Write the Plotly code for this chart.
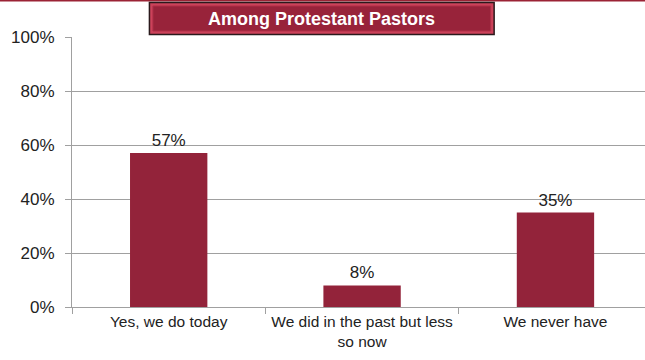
import plotly.graph_objects as go

categories = ["Yes, we do today", "We did in the past but less<br>so now", "We never have"]
values = [57, 8, 35]
y_ticks = [0, 20, 40, 60, 80, 100]
y_tick_labels = ["0%", "20%", "40%", "60%", "80%", "100%"]
title_text = "Among Protestant Pastors"

bar_color = "#93233A"
font_family = "Liberation Sans, Arial"

fig = go.Figure(
    go.Bar(
        x=categories,
        y=values,
        marker=dict(color=bar_color, line=dict(width=0)),
        width=0.4,
        text=[f"{v}%" for v in values],
        textposition="outside",
        textfont=dict(family=font_family, size=17, color="#222222"),
        cliponaxis=False,
    )
)

W, H = 645, 360
left, right, top, bottom = 71.5, 645, 37, 307

fig.update_layout(
    width=W,
    height=H,
    margin=dict(l=left, r=W - right, t=top, b=H - bottom),
    paper_bgcolor="white",
    plot_bgcolor="white",
    showlegend=False,
    font=dict(family=font_family, color="#222222"),
    bargap=0.6,
)

fig.update_xaxes(
    range=[-0.5, 2.463],
    tickson="boundaries",
    ticks="outside",
    ticklen=6,
    tickcolor="#A0A0A0",
    showline=True,
    linecolor="#A0A0A0",
    linewidth=1,
    showgrid=False,
    tickfont=dict(size=15.5, color="#222222"),
)

fig.update_yaxes(
    range=[0, 100],
    tickvals=y_ticks,
    ticktext=y_tick_labels,
    ticks="outside",
    ticklen=6,
    tickcolor="#A0A0A0",
    showline=True,
    linecolor="#A0A0A0",
    linewidth=1,
    showgrid=True,
    gridcolor="#A0A0A0",
    gridwidth=1,
    zeroline=False,
    tickfont=dict(size=17, color="#222222"),
    ticklabelstandoff=7,
)


def px_rect(x0, y0, x1, y1, **kw):
    return dict(
        type="rect", xref="paper", yref="paper",
        x0=(x0 - left) / (right - left), x1=(x1 - left) / (right - left),
        y0=(bottom - y1) / (bottom - top), y1=(bottom - y0) / (bottom - top),
        layer="above", **kw,
    )


# Header rule across the top and the bevelled title badge
shapes = [
    dict(type="line", xref="paper", yref="paper", x0=-0.2, x1=1.05,
         y0=(bottom - 0.5) / (bottom - top), y1=(bottom - 0.5) / (bottom - top),
         line=dict(color="#9B2335", width=2)),
    px_rect(149, 2.5, 494, 34.5, fillcolor="#CC425A",
            line=dict(color="#2A1A1C", width=1.5)),
    px_rect(152.5, 6, 490.5, 31, fillcolor="#98233A",
            line=dict(color="#B02F47", width=1)),
]
fig.update_layout(shapes=shapes)

fig.add_annotation(
    xref="paper", yref="paper",
    x=(321.5 - left) / (right - left), y=(bottom - 18.5) / (bottom - top),
    text=f"<b>{title_text}</b>", showarrow=False,
    font=dict(family=font_family, size=18, color="white"),
    xanchor="center", yanchor="middle",
)

fig.write_html("out.html")
